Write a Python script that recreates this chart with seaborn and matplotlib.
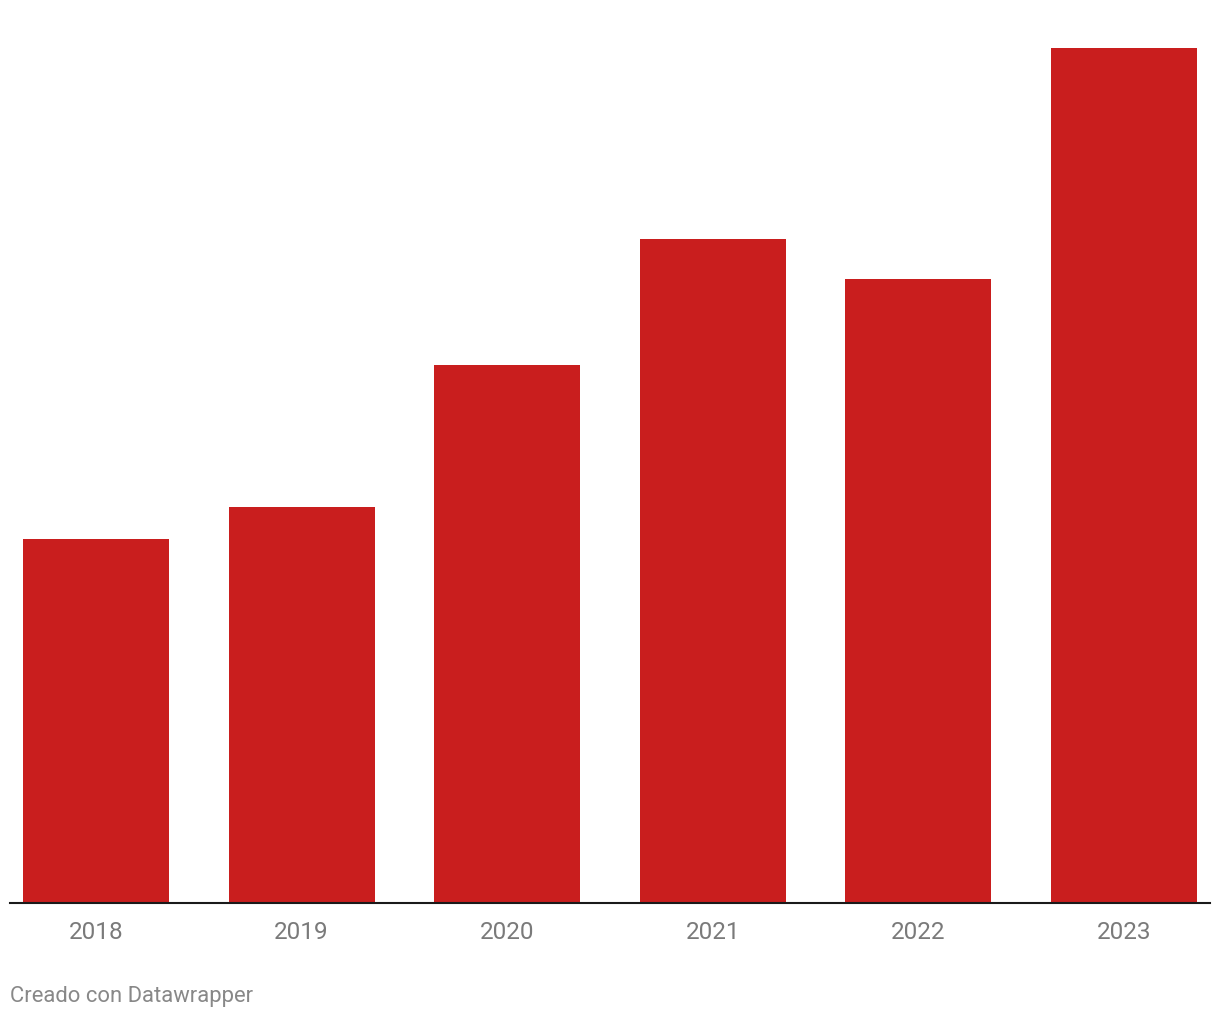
import matplotlib
matplotlib.use("Agg")
import matplotlib.pyplot as plt
import seaborn as sns
import pandas as pd

years = ["2018", "2019", "2020", "2021", "2022", "2023"]
values = [364, 396, 538, 664, 624, 855]

df = pd.DataFrame({"year": years, "value": values})

sns.set_theme(style="white")
plt.rcParams['font.family'] = ['Roboto', 'DejaVu Sans']

W, H = 1220, 1020
fig = plt.figure(figsize=(W / 100, H / 100), dpi=100)
ax = fig.add_axes([10 / W, (H - 904) / H, 1200 / W, (904 - 48) / H])

sns.barplot(data=df, x="year", y="value", color="#c91e1e", width=0.71,
            saturation=1, linewidth=0, ax=ax)

ax.set_xlim(-0.418, 5.418)
ax.set_ylim(0, 856)
ax.set_xlabel("")
ax.set_ylabel("")
ax.set_yticks([])
for s in ["top", "right", "left"]:
    ax.spines[s].set_visible(False)
ax.spines["bottom"].set_color("#1a1a1a")
ax.spines["bottom"].set_linewidth(1.5)
ax.tick_params(axis="x", length=0, pad=12, labelsize=17.5, labelcolor="#7a7a7a")

fig.text(10 / W, 1 - 997 / H, "Creado con Datawrapper", ha="left", va="center",
         fontsize=15.8, color="#888888")

fig.savefig("out.png", dpi=100)
